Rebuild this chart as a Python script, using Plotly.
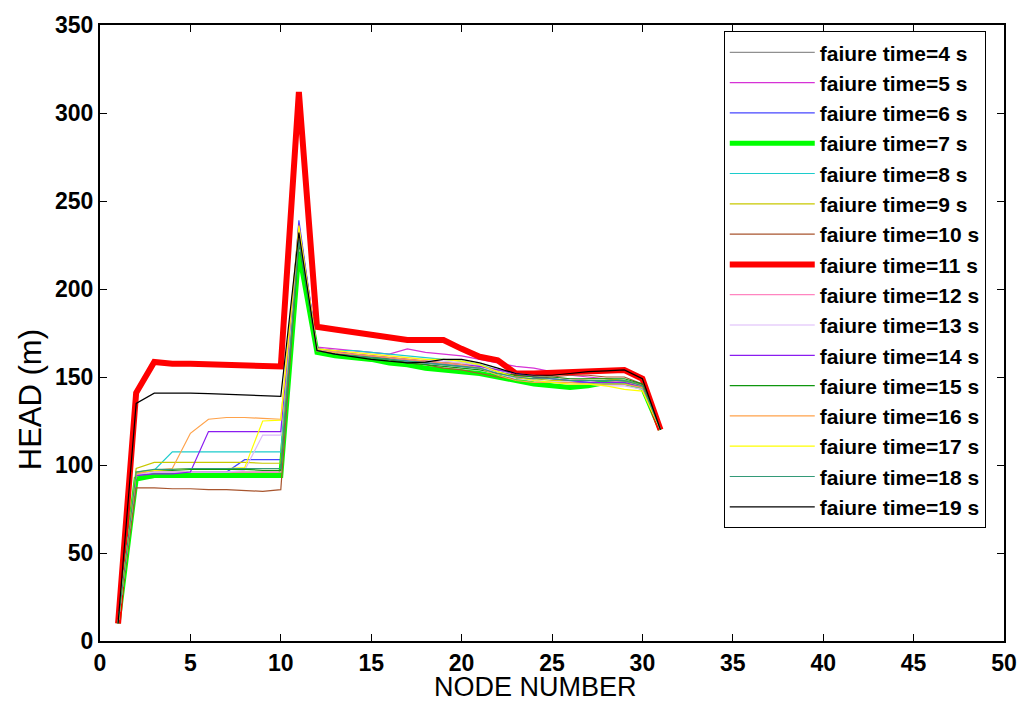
import plotly.graph_objects as go

nodes = list(range(1, 32))

labels = [f"faiure time={t} s" for t in range(4, 20)]

head_4s = [10, 95, 96, 96, 96, 96, 96, 96, 96, 96, 232, 165, 163, 162, 161, 160, 159, 158, 157, 156, 155, 153, 151, 150, 149, 148, 148, 147, 147, 145, 120]
head_5s = [10, 92, 93, 93, 93, 93, 93, 94, 94, 94, 236, 167, 166, 165, 164, 163, 166, 164, 163, 162, 160, 158, 156, 155, 153, 151, 150, 149, 148, 146, 120]
head_6s = [10, 94, 95, 95, 96, 96, 96, 103, 103, 103, 239, 166, 164, 163, 162, 160, 159, 158, 157, 156, 155, 152, 150, 148, 147, 147, 147, 146, 146, 145, 120]
head_7s = [10, 92, 94, 94, 94, 94, 94, 94, 94, 94, 221, 164, 162, 161, 160, 158, 157, 155, 154, 153, 152, 150, 148, 146, 145, 144, 145, 147, 147, 144, 120]
head_8s = [10, 95, 97, 107.5, 107.5, 107.5, 107.5, 107.5, 107.5, 107.5, 234, 166, 165, 165, 164, 163, 162, 161, 160, 159, 157, 154, 152, 150, 149, 148, 147, 146, 146, 144, 120]
head_9s = [10, 98, 101.5, 101.5, 101.5, 101.5, 101.5, 101.5, 101, 101, 236, 165, 164, 163, 162, 161, 160, 159, 158, 158, 156, 153, 150, 149, 148, 148, 149, 149, 148, 145, 120]
head_10s = [10, 87, 87, 86.5, 86.5, 86, 86, 85.5, 85, 86, 228, 165, 163, 162, 161, 160, 158, 157, 155, 154, 152, 150, 149, 149, 150, 151, 151, 150, 150, 146, 120]
head_11s = [10, 141, 158.5, 157.5, 157.5, 157.3, 157, 156.8, 156.5, 156, 312, 178.5, 177, 175.5, 174, 172.5, 171, 171, 171, 166, 161.5, 159.5, 152, 152, 152.5, 152.5, 153, 153.5, 154, 149, 120]
head_12s = [10, 95, 96, 96, 96, 96, 96, 96, 96, 96, 233, 165, 164, 163, 162, 161, 160, 159, 158, 157, 156, 154, 152, 151, 150, 149, 148, 148, 147, 145, 120]
head_13s = [10, 95, 96, 96, 96, 96, 96, 97, 117, 117, 233, 166, 165, 164, 163, 162, 161, 160, 159, 158, 156, 152, 149, 148, 147, 146, 146, 145, 145, 143, 120]
head_14s = [10, 94, 95, 95, 96, 119, 119, 119, 119, 119, 237, 166, 165, 163, 162, 161, 160, 159, 158, 157, 156, 154, 152, 150, 149, 148, 147, 147, 147, 144, 120]
head_15s = [10, 96, 97, 97, 97.5, 97.5, 97.5, 97.5, 97, 97, 226, 165, 163, 162, 161, 160, 158, 157, 156, 155, 154, 152, 151, 150, 150, 149, 149, 149, 149, 146, 120]
head_16s = [10, 95, 97, 98, 118, 126, 127, 127, 126.5, 126, 232, 165, 164, 163, 162, 161, 160, 159, 158, 157, 155, 151, 148, 147, 147, 147, 146, 146, 146, 144, 120]
head_17s = [10, 96, 97, 97.5, 98, 98, 98, 98.5, 125, 125.5, 236, 166, 165, 164, 163, 162, 161, 160, 160, 159, 157, 153, 150, 148, 147, 146, 146, 145, 143, 142, 120]
head_18s = [10, 96, 97.5, 97.5, 98, 98, 98, 98, 98, 98, 228, 165, 163, 162, 161, 160, 159, 158, 157, 156, 155, 152, 150, 149, 149, 148, 148, 148, 148, 145, 120]
head_19s = [10, 135, 140.8, 141, 140.8, 140.6, 140.3, 140, 139.5, 139, 232, 165, 163, 161.5, 160, 159, 158, 158.5, 160, 160, 158, 155, 152, 151, 151, 152, 153, 153.5, 154, 149, 120]

series = [head_4s, head_5s, head_6s, head_7s, head_8s, head_9s, head_10s, head_11s,
          head_12s, head_13s, head_14s, head_15s, head_16s, head_17s, head_18s, head_19s]

colors = ["#909090", "#d632d6", "#4646ff", "#00ff00", "#1ccccc", "#c8c800", "#a8552e", "#ff0000",
          "#ff85c0", "#dcb8fa", "#8a1cf0", "#0f960f", "#ffa24a", "#ffff00", "#339a78", "#000000"]
widths = [1.2, 1.2, 1.2, 5, 1.2, 1.2, 1.2, 6, 1.2, 1.2, 1.2, 1.2, 1.2, 1.2, 1.2, 1.2]

fig = go.Figure()
for name, ys, c, w in zip(labels, series, colors, widths):
    fig.add_trace(go.Scatter(x=nodes, y=ys, mode="lines", name=name,
                             line=dict(color=c, width=w)))

family = "Liberation Sans, Arial, sans-serif"
tick_font = dict(family=family, size=23, color="black", weight="bold")

axis_common = dict(showline=True, linecolor="black", linewidth=2, mirror="ticks",
                   ticks="inside", ticklen=7, tickwidth=1, tickcolor="black",
                   showgrid=False, zeroline=False, tickfont=tick_font)

fig.update_layout(
    width=1029, height=704,
    paper_bgcolor="white", plot_bgcolor="white",
    margin=dict(l=100, r=16, t=21, b=63),
    xaxis=dict(range=[0, 50], tick0=0, dtick=5, **axis_common),
    yaxis=dict(range=[0, 350], tick0=0, dtick=50, **axis_common),
    legend=dict(x=0.69, y=0.99, xanchor="left", yanchor="top",
                bgcolor="white", bordercolor="black", borderwidth=1,
                font=dict(family=family, size=21, color="black", weight="bold"),
                tracegroupgap=0, itemwidth=85,
                entrywidth=178, entrywidthmode="pixels"),
    showlegend=True,
    annotations=[
        dict(text="NODE NUMBER", xref="paper", yref="paper", x=0.482, y=-0.1016,
             xanchor="center", yanchor="bottom", showarrow=False,
             font=dict(family=family, size=27, color="black")),
        dict(text="HEAD (m)", xref="paper", yref="paper", x=-0.0767, y=0.392,
             xanchor="center", yanchor="middle", textangle=-90, showarrow=False,
             font=dict(family=family, size=31, color="black")),
    ],
)

fig.write_html("out.html")
